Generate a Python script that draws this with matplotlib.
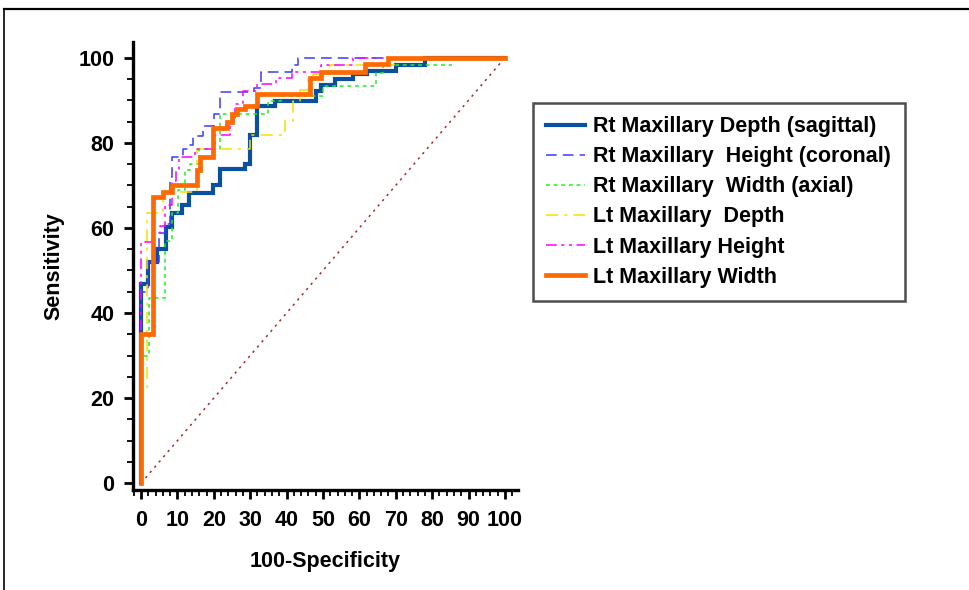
import matplotlib
matplotlib.use("Agg")
import matplotlib.pyplot as plt
from matplotlib.lines import Line2D
from matplotlib.ticker import MultipleLocator

plt.rcParams['font.family'] = ['Liberation Sans', 'DejaVu Sans']
plt.rcParams['font.weight'] = 'bold'

# ---- data: ROC operating points (100-Specificity, Sensitivity) ----
labels = ["Rt Maxillary Depth (sagittal)",
          "Rt Maxillary  Height (coronal)",
          "Rt Maxillary  Width (axial)",
          "Lt Maxillary  Depth",
          "Lt Maxillary Height",
          "Lt Maxillary Width"]

rt_depth_x = [0, 0, 2.0, 4.3, 6.8, 8.4, 11.2, 13.3, 19.9, 21.7, 28.6, 29.9, 31.8, 36.8, 48.2, 49.6, 53.3, 58.3, 62.0, 70.0, 78.0, 100]
rt_depth_y = [0, 46.9, 52.1, 55.1, 60.2, 63.4, 65.3, 68.3, 70.1, 73.8, 75.0, 81.9, 88.7, 89.8, 92.1, 93.6, 95.0, 96.2, 96.9, 98.4, 100, 100]

rt_height_x = [0, 0, 2.0, 4.9, 6.6, 8.0, 8.4, 11.5, 13.0, 14.4, 17.0, 20.0, 21.7, 31.0, 33.0, 41.4, 43.2, 100]
rt_height_y = [0, 45.0, 52.0, 58.7, 61.0, 72.0, 76.6, 78.6, 79.5, 81.7, 84.0, 86.8, 91.9, 93.0, 96.6, 98.3, 100, 100]

rt_width_x = [0, 0, 2.3, 6.6, 8.4, 10.2, 12.0, 13.5, 16.0, 21.7, 35.0, 38.6, 50.0, 64.7, 66.6, 85.5]
rt_width_y = [0, 30.0, 43.6, 57.0, 63.4, 69.0, 73.5, 75.0, 78.6, 86.8, 89.9, 91.0, 93.4, 96.5, 98.4, 98.4]

lt_depth_x = [0, 0, 1.7, 6.0, 15.3, 29.9, 39.7, 41.7, 43.7, 46.0, 47.3, 52.0, 69.5, 100]
lt_depth_y = [0, 21.8, 63.4, 68.4, 78.6, 81.9, 85.2, 89.9, 92.5, 95.0, 96.2, 98.4, 100, 100]

lt_height_x = [0, 0, 2.9, 5.2, 6.6, 8.4, 9.5, 10.5, 14.8, 20.3, 24.4, 25.8, 28.0, 32.0, 37.2, 41.4, 49.6, 58.3, 100]
lt_height_y = [0, 56.8, 58.7, 60.5, 65.3, 71.1, 73.5, 76.6, 78.6, 81.9, 84.8, 89.1, 92.3, 93.8, 95.2, 96.6, 98.3, 100, 100]

lt_width_x = [0, 0, 3.4, 6.1, 8.4, 15.3, 16.2, 19.9, 23.5, 24.9, 26.3, 28.6, 32.0, 46.4, 49.6, 61.5, 67.9, 100]
lt_width_y = [0, 35.0, 67.2, 68.4, 70.0, 73.5, 76.6, 83.4, 84.9, 86.8, 88.0, 88.7, 91.5, 95.2, 96.7, 98.5, 100, 100]

diag_x = [0, 100]
diag_y = [0, 100]

x_ticks = list(range(0, 101, 10))
y_ticks = list(range(0, 101, 20))

# ---- figure ----
fig = plt.figure(figsize=(9.7, 5.9), dpi=100)
W, H = 970, 590
ax = fig.add_axes([133 / W, 1 - 490 / H, (518 - 133) / W, (490 - 42) / H])

ax.plot(diag_x, diag_y, color='#A52A2A', lw=1.1, linestyle=(0, (1.5, 3)), zorder=1)

ax.plot(rt_depth_x, rt_depth_y, drawstyle='steps-post', color='#0A4FA0', lw=3.0,
        solid_joinstyle='miter', label=labels[0], zorder=3)
ax.plot(rt_height_x, rt_height_y, drawstyle='steps-post', color='#3A3AFF', lw=1.1,
        linestyle=(0, (7, 4)), label=labels[1], zorder=4)
ax.plot(rt_width_x, rt_width_y, drawstyle='steps-post', color='#22EE22', lw=1.1,
        linestyle=(0, (2.5, 2.5)), label=labels[2], zorder=4)
ax.plot(lt_depth_x, lt_depth_y, drawstyle='steps-post', color='#F5E000', lw=1.1,
        linestyle=(0, (8, 4, 2, 4)), label=labels[3], zorder=4)
ax.plot(lt_height_x, lt_height_y, drawstyle='steps-post', color='#FF00FF', lw=1.1,
        linestyle=(0, (7, 3, 2, 3, 2, 3)), label=labels[4], zorder=4)
ax.plot(lt_width_x, lt_width_y, drawstyle='steps-post', color='#FF6A00', lw=3.4,
        solid_joinstyle='miter', label=labels[5], zorder=5)

ax.set_xlim(-2.2, 103.6)
ax.set_ylim(-1.6, 103.7)
ax.spines['top'].set_visible(False)
ax.spines['right'].set_visible(False)
for s in ('left', 'bottom'):
    ax.spines[s].set_linewidth(2.4)

ax.set_xticks(x_ticks)
ax.set_yticks(y_ticks)
ax.xaxis.set_minor_locator(MultipleLocator(2))
ax.yaxis.set_minor_locator(MultipleLocator(5))
ax.tick_params(which='major', direction='out', length=6.5, width=2.0, labelsize=15.5)
ax.tick_params(which='minor', direction='out', length=4, width=1.3)
ax.tick_params(axis='x', which='major', pad=8)
ax.tick_params(axis='y', which='major', pad=7)
for t in ax.get_xticklabels() + ax.get_yticklabels():
    t.set_fontweight('bold')

ax.set_xlabel('100-Specificity', fontsize=15.5, fontweight='bold', labelpad=14)
ax.set_ylabel('Sensitivity', fontsize=15.5, fontweight='bold', labelpad=10)

leg = ax.legend(loc='upper left', bbox_to_anchor=(533 / W, 1 - 103 / H),
                bbox_transform=fig.transFigure, fontsize=15.5, frameon=True,
                fancybox=False, edgecolor='#222222', handlelength=1.8,
                handletextpad=0.38, labelspacing=0.42, borderpad=0.62,
                borderaxespad=0)
leg.get_frame().set_linewidth(1.8)
for t in leg.get_texts():
    t.set_fontweight('bold')

# outer border lines (top and left)
fig.add_artist(Line2D([4 / W, 1], [1 - 9 / H, 1 - 9 / H], transform=fig.transFigure,
                      color='black', lw=1.6))
fig.add_artist(Line2D([4.5 / W, 4.5 / W], [0, 1 - 9 / H], transform=fig.transFigure,
                      color='black', lw=1.2))

fig.savefig('out.png', dpi=100, facecolor='white')
